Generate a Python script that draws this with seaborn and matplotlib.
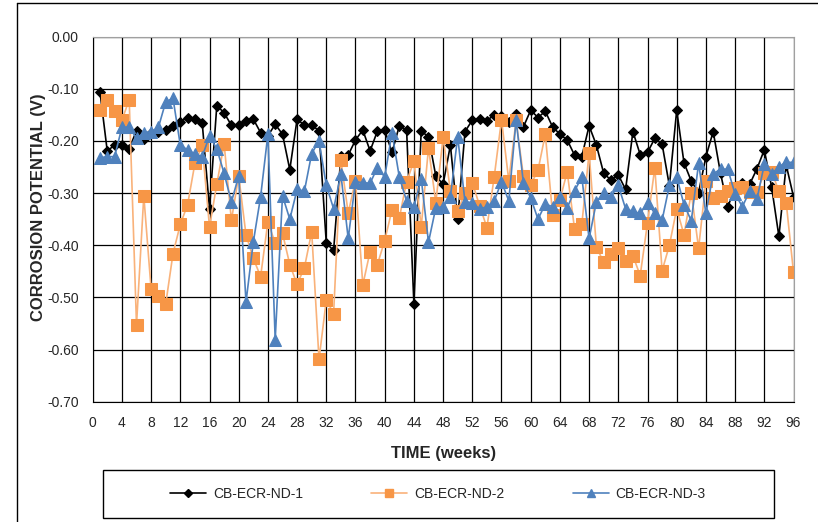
import numpy as np
import pandas as pd
import matplotlib
matplotlib.use("Agg")
import matplotlib.pyplot as plt
from matplotlib.lines import Line2D
from matplotlib.patches import Rectangle
import seaborn as sns

weeks = list(range(1, 97))

nd1 = [-0.106, -0.220, -0.207, -0.207, -0.215, -0.180, -0.196, -0.185, -0.182, -0.178,
       -0.172, -0.163, -0.155, -0.157, -0.165, -0.330, -0.132, -0.146, -0.170, -0.170,
       -0.161, -0.158, -0.184, -0.190, -0.168, -0.187, -0.255, -0.158, -0.170, -0.170,
       -0.180, -0.396, -0.410, -0.229, -0.227, -0.198, -0.179, -0.219, -0.181, -0.179,
       -0.222, -0.171, -0.179, -0.512, -0.181, -0.192, -0.267, -0.283, -0.208, -0.350,
       -0.182, -0.160, -0.157, -0.161, -0.150, -0.153, -0.163, -0.148, -0.173, -0.141,
       -0.155, -0.143, -0.173, -0.187, -0.198, -0.227, -0.230, -0.171, -0.208, -0.262,
       -0.275, -0.265, -0.293, -0.182, -0.226, -0.222, -0.195, -0.206, -0.286, -0.141,
       -0.242, -0.277, -0.299, -0.230, -0.182, -0.262, -0.326, -0.290, -0.280, -0.283,
       -0.253, -0.217, -0.288, -0.383, -0.246, -0.307]

nd2 = [-0.141, -0.121, -0.143, -0.160, -0.121, -0.553, -0.305, -0.484, -0.497, -0.513,
       -0.416, -0.360, -0.322, -0.243, -0.208, -0.365, -0.283, -0.205, -0.352, -0.267,
       -0.380, -0.425, -0.460, -0.355, -0.396, -0.377, -0.437, -0.475, -0.443, -0.374,
       -0.619, -0.505, -0.531, -0.237, -0.338, -0.276, -0.476, -0.412, -0.437, -0.391,
       -0.332, -0.348, -0.278, -0.239, -0.365, -0.213, -0.318, -0.193, -0.296, -0.334,
       -0.300, -0.280, -0.324, -0.366, -0.269, -0.159, -0.276, -0.160, -0.268, -0.284,
       -0.256, -0.187, -0.341, -0.313, -0.259, -0.368, -0.360, -0.223, -0.403, -0.433,
       -0.417, -0.406, -0.430, -0.420, -0.458, -0.357, -0.251, -0.449, -0.400, -0.330,
       -0.380, -0.299, -0.406, -0.277, -0.309, -0.305, -0.296, -0.291, -0.288, -0.297,
       -0.298, -0.262, -0.259, -0.296, -0.318, -0.452]

nd3 = [-0.232, -0.230, -0.230, -0.174, -0.173, -0.195, -0.184, -0.182, -0.174, -0.125,
       -0.118, -0.208, -0.217, -0.225, -0.230, -0.190, -0.215, -0.262, -0.317, -0.267,
       -0.509, -0.394, -0.307, -0.187, -0.581, -0.305, -0.350, -0.293, -0.296, -0.224,
       -0.200, -0.285, -0.330, -0.264, -0.387, -0.278, -0.280, -0.281, -0.251, -0.269,
       -0.184, -0.269, -0.315, -0.326, -0.272, -0.394, -0.328, -0.326, -0.307, -0.192,
       -0.317, -0.318, -0.331, -0.326, -0.315, -0.278, -0.315, -0.160, -0.280, -0.309,
       -0.350, -0.321, -0.326, -0.307, -0.328, -0.296, -0.269, -0.387, -0.317, -0.299,
       -0.307, -0.285, -0.330, -0.335, -0.339, -0.318, -0.339, -0.352, -0.285, -0.269,
       -0.322, -0.353, -0.243, -0.339, -0.263, -0.254, -0.254, -0.302, -0.326, -0.296,
       -0.311, -0.245, -0.263, -0.250, -0.241, -0.241]

names = ["CB-ECR-ND-1", "CB-ECR-ND-2", "CB-ECR-ND-3"]
xticks = list(range(0, 97, 4))
yticks = [0.0, -0.1, -0.2, -0.3, -0.4, -0.5, -0.6, -0.7]

df = pd.DataFrame({
    "week": weeks * 3,
    "potential": nd1 + nd2 + nd3,
    "sensor": [names[0]] * 96 + [names[1]] * 96 + [names[2]] * 96,
})

sns.set_style("white")
plt.rcParams["font.family"] = ["Liberation Sans", "DejaVu Sans"]

W, H = 818, 522
fig = plt.figure(figsize=(W / 100, H / 100), dpi=100)
ax = fig.add_axes([92.7 / W, 1 - 401.7 / H, (793.5 - 92.7) / W, (401.7 - 36.7) / H])

line_colors = {names[0]: "black", names[1]: "#F9B27A", names[2]: "#4F81BD"}
face_colors = {names[0]: "black", names[1]: "#F79646", names[2]: "#4F81BD"}
markers = {names[0]: "D", names[1]: "s", names[2]: "^"}
msize = {names[0]: 5, names[1]: 8, names[2]: 8}

for name in names:
    sub = df[df["sensor"] == name]
    sns.lineplot(data=sub, x="week", y="potential", ax=ax, color=line_colors[name],
                 lw=1.2, marker=markers[name], markersize=msize[name],
                 markerfacecolor=face_colors[name], markeredgecolor=face_colors[name],
                 label=name, legend=False)

ax.set_xlim(0, 96)
ax.set_ylim(-0.70, 0.0)
ax.set_xticks(xticks)
ax.set_xticklabels([str(t) for t in xticks], fontsize=10)
ax.set_yticks(yticks)
ax.set_yticklabels([f"{t:.2f}" for t in yticks], fontsize=10)
ax.grid(True, color="black", lw=0.9)
ax.set_axisbelow(True)
for s in ["top", "right"]:
    ax.spines[s].set_color("#a0a0a0")
for s in ["left", "bottom"]:
    ax.spines[s].set_color("black")
ax.tick_params(axis="both", direction="out", length=4, width=1, color="black", pad=6)
ax.set_xlabel("TIME (weeks)", fontsize=12, fontweight="bold", labelpad=12)
ax.set_ylabel("CORROSION POTENTIAL (V)", fontsize=12, fontweight="bold")
ax.yaxis.set_label_coords(-0.066, 0.533)

# legend box
fig.add_artist(Rectangle((103 / W, 1 - 518 / H), 671 / W, 48 / H, transform=fig.transFigure,
                         fill=False, edgecolor="black", lw=1))
handles = [Line2D([0], [0], color=line_colors[n], lw=1.2, marker=markers[n],
                  markersize=msize[n] * 0.8, markerfacecolor=face_colors[n],
                  markeredgecolor=face_colors[n]) for n in names]
fig.legend(handles, names, loc="center", bbox_to_anchor=(438 / W, 1 - 494 / H), ncol=3,
           frameon=False, fontsize=10, handlelength=2.6, columnspacing=4.9, handletextpad=0.5)

# outer chart border
fig.add_artist(Line2D([17 / W, 17 / W], [0, 1 - 3 / H], transform=fig.transFigure, color="black", lw=1))
fig.add_artist(Line2D([17 / W, 1], [1 - 3 / H, 1 - 3 / H], transform=fig.transFigure, color="black", lw=1))

fig.savefig("out.png", dpi=100)
